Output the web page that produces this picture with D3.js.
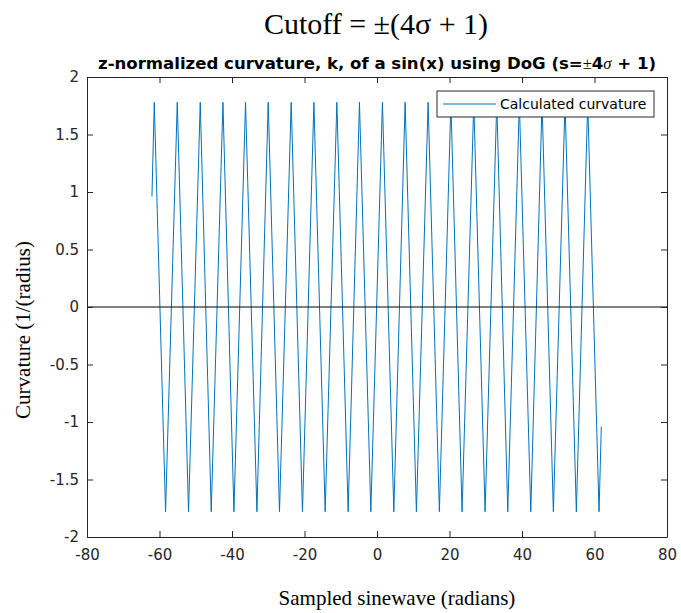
<!DOCTYPE html>
<html>
<head>
<meta charset="utf-8">
<script src="https://cdn.jsdelivr.net/npm/d3@7"></script>
<style>
  body { margin: 0; background: #fff; }
  svg { display: block; }
</style>
</head>
<body>
<svg id="chart" width="681" height="613"></svg>
<script>
'use strict'

// turning points of the curvature trace (radians)
var peakX = [-61.44, -55.10, -48.76, -42.50, -36.27, -30.01, -23.67, -17.41, -11.07, -4.84,
  1.50, 7.76, 14.10, 20.38, 26.70, 33.04, 39.27, 45.53, 51.87, 58.13]
var troughX = [-58.33, -51.99, -45.73, -39.47, -33.13, -26.90, -20.56, -14.30, -7.96, -1.70,
  4.64, 10.87, 17.21, 23.47, 29.82, 36.07, 42.42, 48.65, 54.99, 61.25]
var peakY = 1.78
var troughY = -1.78
var startPoint = [-62.08, 0.96]
var endPoint = [61.88, -1.04]

// reference line at zero
var zeroLineX = [-80, 80]

var xTicks = [-80, -60, -40, -20, 0, 20, 40, 60, 80]
var yTicks = [-2, -1.5, -1, -0.5, 0, 0.5, 1, 1.5, 2]

var axisColor = '#262626'
var lineColor = '#0072BD'
var sansFont = '"DejaVu Sans", sans-serif'
var serifFont = '"Liberation Serif", "Times New Roman", serif'

var plotLeft = 87
var plotRight = 667
var plotTop = 77
var plotBottom = 537

var svg = d3.select('#chart')

var x = d3.scaleLinear().domain([-80, 80]).range([plotLeft, plotRight])
var y = d3.scaleLinear().domain([-2, 2]).range([plotBottom, plotTop])

// assemble the trace from the read turning points
var points = [startPoint]
peakX.forEach((px, i) => {
  points.push([px, peakY])
  points.push([troughX[i], troughY])
})
points.push(endPoint)

var line = d3.line()
  .x((d) => x(d[0]))
  .y((d) => y(d[1]))

svg.append('path')
  .datum(points)
  .attr('fill', 'none')
  .attr('stroke', lineColor)
  .attr('stroke-width', 1)
  .attr('d', line)

svg.append('path')
  .datum(zeroLineX.map((v) => [v, 0]))
  .attr('fill', 'none')
  .attr('stroke', '#000')
  .attr('stroke-width', 1)
  .attr('d', line)

var fmt = (d) => String(d)

function styleAxis (g) {
  g.select('.domain').attr('stroke', axisColor)
  g.selectAll('.tick line').attr('stroke', axisColor)
  g.selectAll('.tick text')
    .attr('fill', axisColor)
    .style('font-family', sansFont)
    .style('font-size', '15px')
}

svg.append('g')
  .attr('transform', 'translate(0,' + plotBottom + ')')
  .call(d3.axisBottom(x).tickValues(xTicks).tickFormat(fmt)
    .tickSizeInner(-6).tickSizeOuter(0).tickPadding(12))
  .call(styleAxis)

svg.append('g')
  .attr('transform', 'translate(0,' + plotTop + ')')
  .call(d3.axisTop(x).tickValues(xTicks).tickFormat('')
    .tickSizeInner(-6).tickSizeOuter(0))
  .call(styleAxis)

svg.append('g')
  .attr('transform', 'translate(' + plotLeft + ',0)')
  .call(d3.axisLeft(y).tickValues(yTicks).tickFormat(fmt)
    .tickSizeInner(-6).tickSizeOuter(0).tickPadding(8))
  .call(styleAxis)

svg.append('g')
  .attr('transform', 'translate(' + plotRight + ',0)')
  .call(d3.axisRight(y).tickValues(yTicks).tickFormat('')
    .tickSizeInner(-6).tickSizeOuter(0))
  .call(styleAxis)

// legend
var legend = svg.append('g').attr('transform', 'translate(437,91)')
legend.append('rect')
  .attr('width', 217)
  .attr('height', 26)
  .attr('fill', '#fff')
  .attr('stroke', axisColor)
  .attr('stroke-width', 1)
legend.append('line')
  .attr('x1', 6).attr('x2', 59)
  .attr('y1', 13).attr('y2', 13)
  .attr('stroke', lineColor)
  .attr('stroke-width', 1)
legend.append('text')
  .attr('x', 63)
  .attr('y', 18)
  .style('font-family', sansFont)
  .style('font-size', '14px')
  .attr('fill', '#000')
  .text('Calculated curvature')

// titles
svg.append('text')
  .attr('x', 376)
  .attr('y', 34)
  .attr('text-anchor', 'middle')
  .style('font-family', serifFont)
  .style('font-size', '30px')
  .attr('fill', '#000')
  .text('Cutoff = ±(4σ + 1)')

var sub = svg.append('text')
  .attr('x', 377)
  .attr('y', 69)
  .attr('text-anchor', 'middle')
  .attr('textLength', 558)
  .attr('lengthAdjust', 'spacingAndGlyphs')
  .style('font-family', sansFont)
  .style('font-size', '16px')
  .style('font-weight', 'bold')
  .attr('fill', '#000')
sub.append('tspan').text('z-normalized curvature, k, of a sin(x) using DoG (s=')
sub.append('tspan')
  .style('font-family', serifFont)
  .style('font-weight', 'normal')
  .text('±')
sub.append('tspan').text('4')
sub.append('tspan')
  .style('font-family', serifFont)
  .style('font-weight', 'normal')
  .style('font-style', 'italic')
  .text('σ')
sub.append('tspan').text(' + 1)')

svg.append('text')
  .attr('x', 397)
  .attr('y', 605)
  .attr('text-anchor', 'middle')
  .style('font-family', serifFont)
  .style('font-size', '21px')
  .attr('fill', '#000')
  .text('Sampled sinewave (radians)')

svg.append('text')
  .attr('transform', 'translate(30,330) rotate(-90)')
  .attr('text-anchor', 'middle')
  .style('font-family', serifFont)
  .style('font-size', '21px')
  .attr('fill', '#000')
  .text('Curvature (1/(radius)')
</script>
</body>
</html>
